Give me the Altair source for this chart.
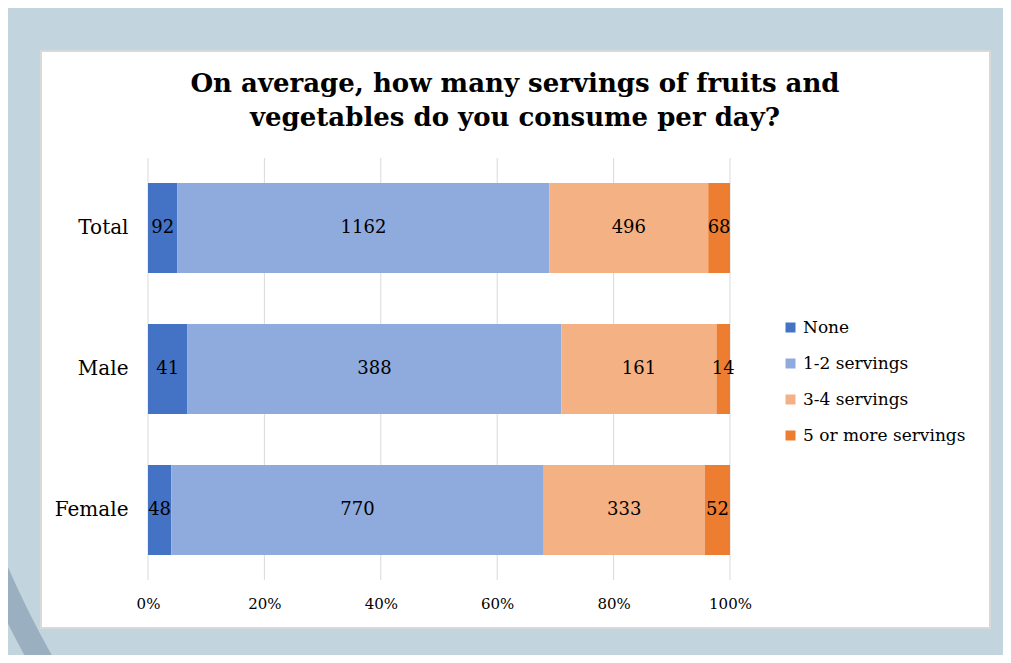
import altair as alt
import pandas as pd

groups = ["Total", "Male", "Female"]
categories = ["None", "1-2 servings", "3-4 servings", "5 or more servings"]
colors = ["#4472c4", "#8faadc", "#f4b183", "#ed7d31"]
none_vals = [92, 41, 48]
one_two_vals = [1162, 388, 770]
three_four_vals = [496, 161, 333]
five_plus_vals = [68, 14, 52]
tick_values = [0, 0.2, 0.4, 0.6, 0.8, 1.0]
title_lines = ["On average, how many servings of fruits and",
               "vegetables do you consume per day?"]

series = [none_vals, one_two_vals, three_four_vals, five_plus_vals]
rows = []
for ci, (cat, vals) in enumerate(zip(categories, series)):
    for gi, g in enumerate(groups):
        rows.append({"group": g, "category": cat, "order": ci, "value": vals[gi]})
df = pd.DataFrame(rows)
ticks_df = pd.DataFrame({"t": tick_values})
one = pd.DataFrame({"a": [0]})

W, H = 582, 422
SERIF = "DejaVu Serif"

xscale = alt.Scale(domain=[0, 1], nice=False, zero=True)
xaxis = alt.Axis(title=None, format="%", values=tick_values, grid=False,
                 domain=False, ticks=False, labelPadding=16, labelFlush=False,
                 labelFontSize=15, labelFont=SERIF, labelColor="black", zindex=2)
yaxis = alt.Axis(title=None, domain=False, ticks=False, labelPadding=20,
                 labelFontSize=20, labelFont=SERIF, labelColor="black",
                 labelFontWeight="normal", zindex=2)
yscale = alt.Scale(paddingInner=0.362, paddingOuter=0.177)

band = alt.Chart(one).mark_arc(theta=3.9, theta2=4.5, radius=1024, radius2=1000,
                               color="#9aafbf").encode(
    x=alt.value(776), y=alt.value(8))

card = alt.Chart(one).mark_rect(fill="white", stroke="#d9d9d9", strokeWidth=2).encode(
    x=alt.value(-107), x2=alt.value(842), y=alt.value(-107), y2=alt.value(470))

grid = alt.Chart(ticks_df).mark_rule(color="#d9d9d9", strokeWidth=1).encode(
    x=alt.X("t:Q", scale=xscale, axis=xaxis),
    y=alt.value(0), y2=alt.value(H))

stacked = alt.Chart(df).transform_stack(
    stack="value", groupby=["group"], as_=["v0", "v1"], offset="normalize",
    sort=[alt.SortField("order", order="ascending")]
).transform_calculate(mid="(datum.v0 + datum.v1) / 2")

bars = stacked.mark_bar().encode(
    x=alt.X("v0:Q", scale=xscale, axis=xaxis),
    x2="v1:Q",
    y=alt.Y("group:N", sort=groups, scale=yscale, axis=yaxis),
    color=alt.Color("category:N",
                    scale=alt.Scale(domain=categories, range=colors),
                    legend=alt.Legend(title=None, orient="none", legendX=634, legendY=161,
                                      symbolType="square", symbolSize=100,
                                      symbolStrokeWidth=0, labelFontSize=17,
                                      labelFont=SERIF, labelColor="black",
                                      rowPadding=18, labelOffset=4, labelLimit=400,
                                      zindex=2)),
    order=alt.Order("order:Q"),
)

labels = stacked.mark_text(font=SERIF, fontSize=18, color="black").encode(
    x=alt.X("mid:Q", scale=xscale, axis=xaxis),
    y=alt.Y("group:N", sort=groups, scale=yscale, axis=yaxis),
    text="value:Q",
)

chart = alt.layer(band, card, grid, bars, labels).properties(
    width=W, height=H,
    title=alt.Title(title_lines, font=SERIF, fontWeight="bold", fontSize=26,
                    color="black", anchor="middle", frame="group", dx=76,
                    offset=-81, lineHeight=34, zindex=2),
    autosize=alt.AutoSizeParams(type="none"),
    padding={"left": 140, "top": 150, "right": 273, "bottom": 75},
    background="#c2d5de",
).configure_view(stroke=None)

chart.save("out.html", embed_options={"renderer": "svg", "actions": False})
